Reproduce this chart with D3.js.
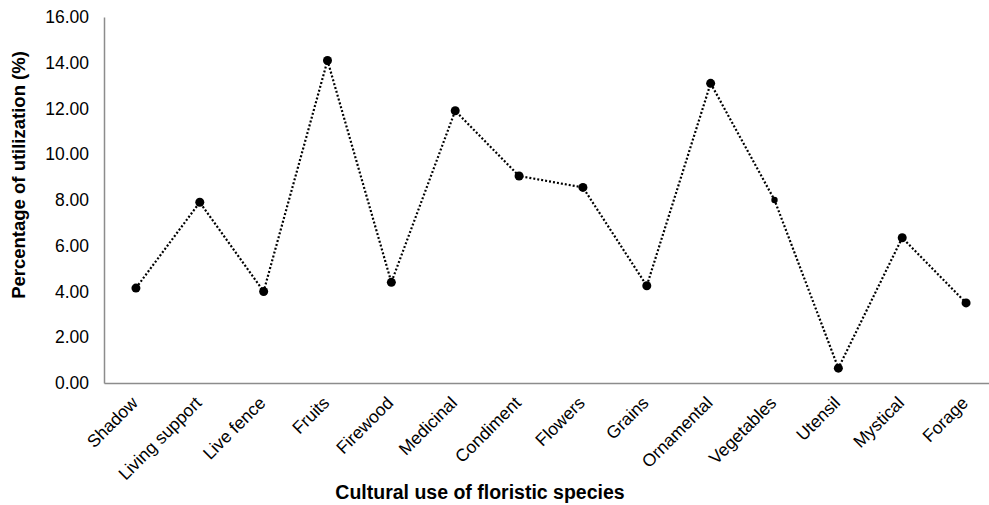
<!DOCTYPE html>
<html><head><meta charset="utf-8">
<script src="https://cdn.jsdelivr.net/npm/d3@7"></script>
<style>body{margin:0;background:#fff}svg{display:block;font-family:"Liberation Sans",Arial,sans-serif}</style>
</head><body><svg id="c" width="989" height="505"></svg>
<script>
const categories = ["Shadow","Living support","Live fence","Fruits","Firewood","Medicinal","Condiment","Flowers","Grains","Ornamental","Vegetables","Utensil","Mystical","Forage"];
const values = [4.15, 7.9, 4.0, 14.1, 4.4, 11.9, 9.05, 8.55, 4.25, 13.1, 8.0, 0.65, 6.35, 3.5];
const yTicks = [0, 2, 4, 6, 8, 10, 12, 14, 16];
const yTitle = "Percentage of utilization (%)";
const xTitle = "Cultural use of floristic species";

const svg = d3.select("#c");
const L = 104, R = 998, T = 17, B = 383;
const x = d3.scaleBand().domain(categories).range([L, R]);
const y = d3.scaleLinear().domain([0, 16]).range([B, T]);

// axes
const yAxis = d3.axisLeft(y).tickValues(yTicks).tickFormat(d3.format(".2f")).tickSize(0).tickPadding(15);
const gy = svg.append("g").attr("transform", `translate(${L},0)`).call(yAxis);
gy.select(".domain").attr("stroke", "#8c8c8c").attr("stroke-width", 1.5);
gy.selectAll("text").attr("font-size", 17.5).attr("fill", "#000").attr("font-family", "Liberation Sans, Arial, sans-serif");

const xAxis = d3.axisBottom(x).tickSize(0).tickPadding(0);
const gx = svg.append("g").attr("transform", `translate(0,${B})`).call(xAxis);
gx.select(".domain").attr("stroke", "#8c8c8c").attr("stroke-width", 1.5);
gx.selectAll("text")
  .attr("font-size", 17.5).attr("fill", "#000").attr("font-family", "Liberation Sans, Arial, sans-serif")
  .attr("text-anchor", "end").attr("dy", null).attr("y", 0)
  .attr("transform", "translate(3,21) rotate(-45)");

// line
const line = d3.line().x((d, i) => x(categories[i]) + x.bandwidth() / 2).y(d => y(d));
svg.append("path").datum(values).attr("d", line)
  .attr("fill", "none").attr("stroke", "#000").attr("stroke-width", 2.2).attr("stroke-dasharray", "2,2");

svg.append("g").selectAll("circle").data(values).join("circle")
  .attr("cx", (d, i) => x(categories[i]) + x.bandwidth() / 2)
  .attr("cy", d => y(d))
  .attr("r", (d, i) => categories[i] === "Vegetables" ? 3.2 : 4.5)
  .attr("fill", "#000");

// titles
svg.append("text").attr("transform", "translate(25,175) rotate(-90)")
  .attr("text-anchor", "middle").attr("font-size", 18.5).attr("font-weight", "bold").text(yTitle);
svg.append("text").attr("x", 480).attr("y", 499).attr("text-anchor", "middle")
  .attr("font-size", 19.5).attr("font-weight", "bold").text(xTitle);
</script></body></html>
